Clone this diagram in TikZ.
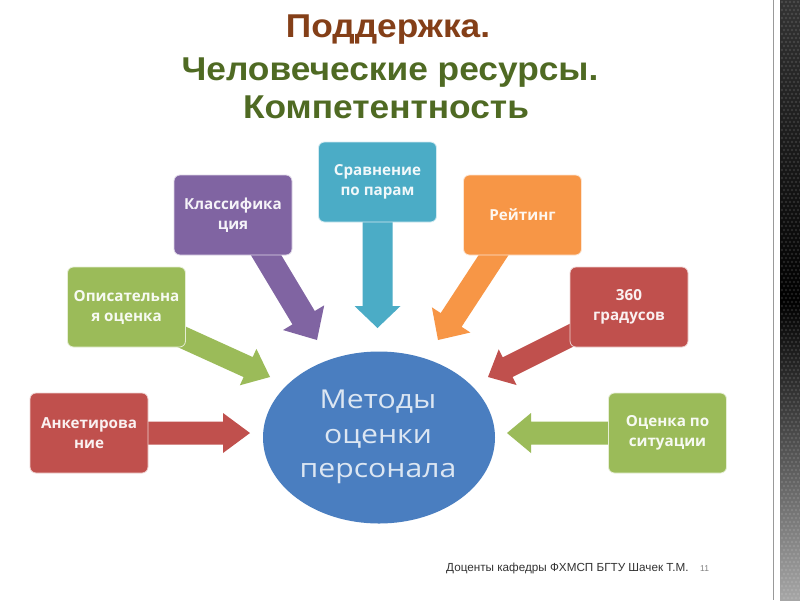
\documentclass[tikz,border=0pt]{standalone}
\usepackage{fontspec}
\setmainfont{Liberation Sans}
\newfontfamily\osans{Open Sans}
\usetikzlibrary{calc,backgrounds,shapes.geometric}
\definecolor{cpurple}{HTML}{8064A2}
\definecolor{cgreen}{HTML}{9BBB59}
\definecolor{cred}{HTML}{C0504D}
\definecolor{cteal}{HTML}{4BACC6}
\definecolor{corange}{HTML}{F79646}
\definecolor{cblue}{HTML}{4A7EC0}
\definecolor{tbrown}{HTML}{843F18}
\definecolor{tgreen}{HTML}{4F6A23}
\definecolor{etext}{HTML}{DCE6F2}
\newcommand\barrow[6]{%
  \path ($(#3)!#6!(#2)$) coordinate (tmpH);
  \fill[#1] ($(#2)!#4!90:(#3)$) -- ($(tmpH)!#4!90:(#3)$) -- ($(tmpH)!#5!90:(#3)$) -- (#3)
    -- ($(tmpH)!#5!-90:(#3)$) -- ($(tmpH)!#4!-90:(#3)$) -- ($(#2)!#4!-90:(#3)$) -- cycle;}
\tikzset{
  mbox/.style={rounded corners=6pt, minimum width=118pt, minimum height=80pt, inner sep=2pt,
    align=center, text=white!92!#1, font=\osans\fontsize{15.2}{20}\selectfont\bfseries,
    fill=#1, draw=white!75!#1, line width=0.8pt},
  titleline/.style={anchor=base, font=\fontsize{33}{38}\selectfont\bfseries},
  eline/.style={anchor=base, inner sep=0pt, text=etext, font=\osans\fontsize{26}{30}\selectfont}
}
\begin{document}
\begin{tikzpicture}[x=1pt,y=-1pt]
\useasboundingbox (0,0) rectangle (800,600);
% title
\node[titleline, text=tbrown] (t1) at (388,37) {\scalebox{1.07}[1]{Поддержка.}};
\node[titleline, text=tgreen] (t2) at (390,80) {\scalebox{1.07}[1]{Человеческие ресурсы.}};
\node[titleline, text=tgreen] (t3) at (386,118) {\scalebox{1.07}[1]{Компетентность}};
% boxes
\node[mbox=cpurple] (cls) at (233,215) {Классифика\\ция};
\node[mbox=cgreen] (opis) at (126.5,307) {Описательна\\я оценка};
\node[mbox=cred] (ank) at (89,433) {Анкетирова\\ние};
\node[mbox=cteal] (srv) at (377.5,182) {Сравнение\\по парам};
\node[mbox=corange] (rei) at (522.5,215) {Рейтинг};
\node[mbox=cred] (deg) at (629,307) {360\\градусов};
\node[mbox=cgreen] (sit) at (667.5,433) {Оценка по\\ситуации};
% center ellipse
\node[ellipse, fill=cblue, minimum width=232pt, minimum height=172pt, inner sep=0pt] (ell) at (379,437.5) {};
\node[eline] (el1) at (378,408) {\scalebox{1.16}[1]{Методы}};
\node[eline] (el2) at (378,443) {\scalebox{1.16}[1]{оценки}};
\node[eline] (el3) at (378,477) {\scalebox{1.16}[1]{персонала}};
% arrow anchors
\coordinate (s1) at (245,220); \coordinate (e1) at (317,340);
\coordinate (s2) at (160,327); \coordinate (e2) at (270,377);
\coordinate (s3) at (120,433); \coordinate (e3) at (250,433);
\coordinate (s4) at (377.5,200); \coordinate (e4) at (377.5,328);
\coordinate (s5) at (510,230); \coordinate (e5) at (438,340);
\coordinate (s6) at (600,321); \coordinate (e6) at (488,377);
\coordinate (s7) at (640,433); \coordinate (e7) at (507,433);
\begin{scope}[on background layer]
\fill[white] (0,0) rectangle (800,600);
\barrow{cpurple}{s1}{e1}{13pt}{24pt}{26pt}
\barrow{cgreen}{s2}{e2}{11pt}{20pt}{24pt}
\barrow{cred}{s3}{e3}{11.5pt}{20pt}{27pt}
\barrow{cteal}{s4}{e4}{15pt}{23pt}{22pt}
\barrow{corange}{s5}{e5}{12.5pt}{23pt}{24pt}
\barrow{cred}{s6}{e6}{11pt}{20pt}{22pt}
\barrow{cgreen}{s7}{e7}{11.5pt}{20pt}{24pt}
\end{scope}
% footer
\node[anchor=base west, inner sep=0pt, text=black!80, font=\fontsize{11.7}{13}\selectfont] (foot) at (446,571) {Доценты кафедры ФХМСП БГТУ Шачек Т.М.};
\node[anchor=base west, inner sep=0pt, text=black!50, font=\fontsize{8.5}{10}\selectfont] (pg) at (700,571) {11};
% right decoration
\draw[black!40, line width=1.2pt] (773.5,0) -- (773.5,600);
\shade[top color=black!80, bottom color=black!35!white, middle color=black] (780,0) rectangle (800,600);
\foreach \i in {0,...,149}{
  \foreach \j in {0,...,4}{
    \fill[white, opacity=0.12] ({782+\j*4+mod(\i,2)*2},{\i*4+2}) circle (1.3pt);
  }
}
\end{tikzpicture}
\end{document}
